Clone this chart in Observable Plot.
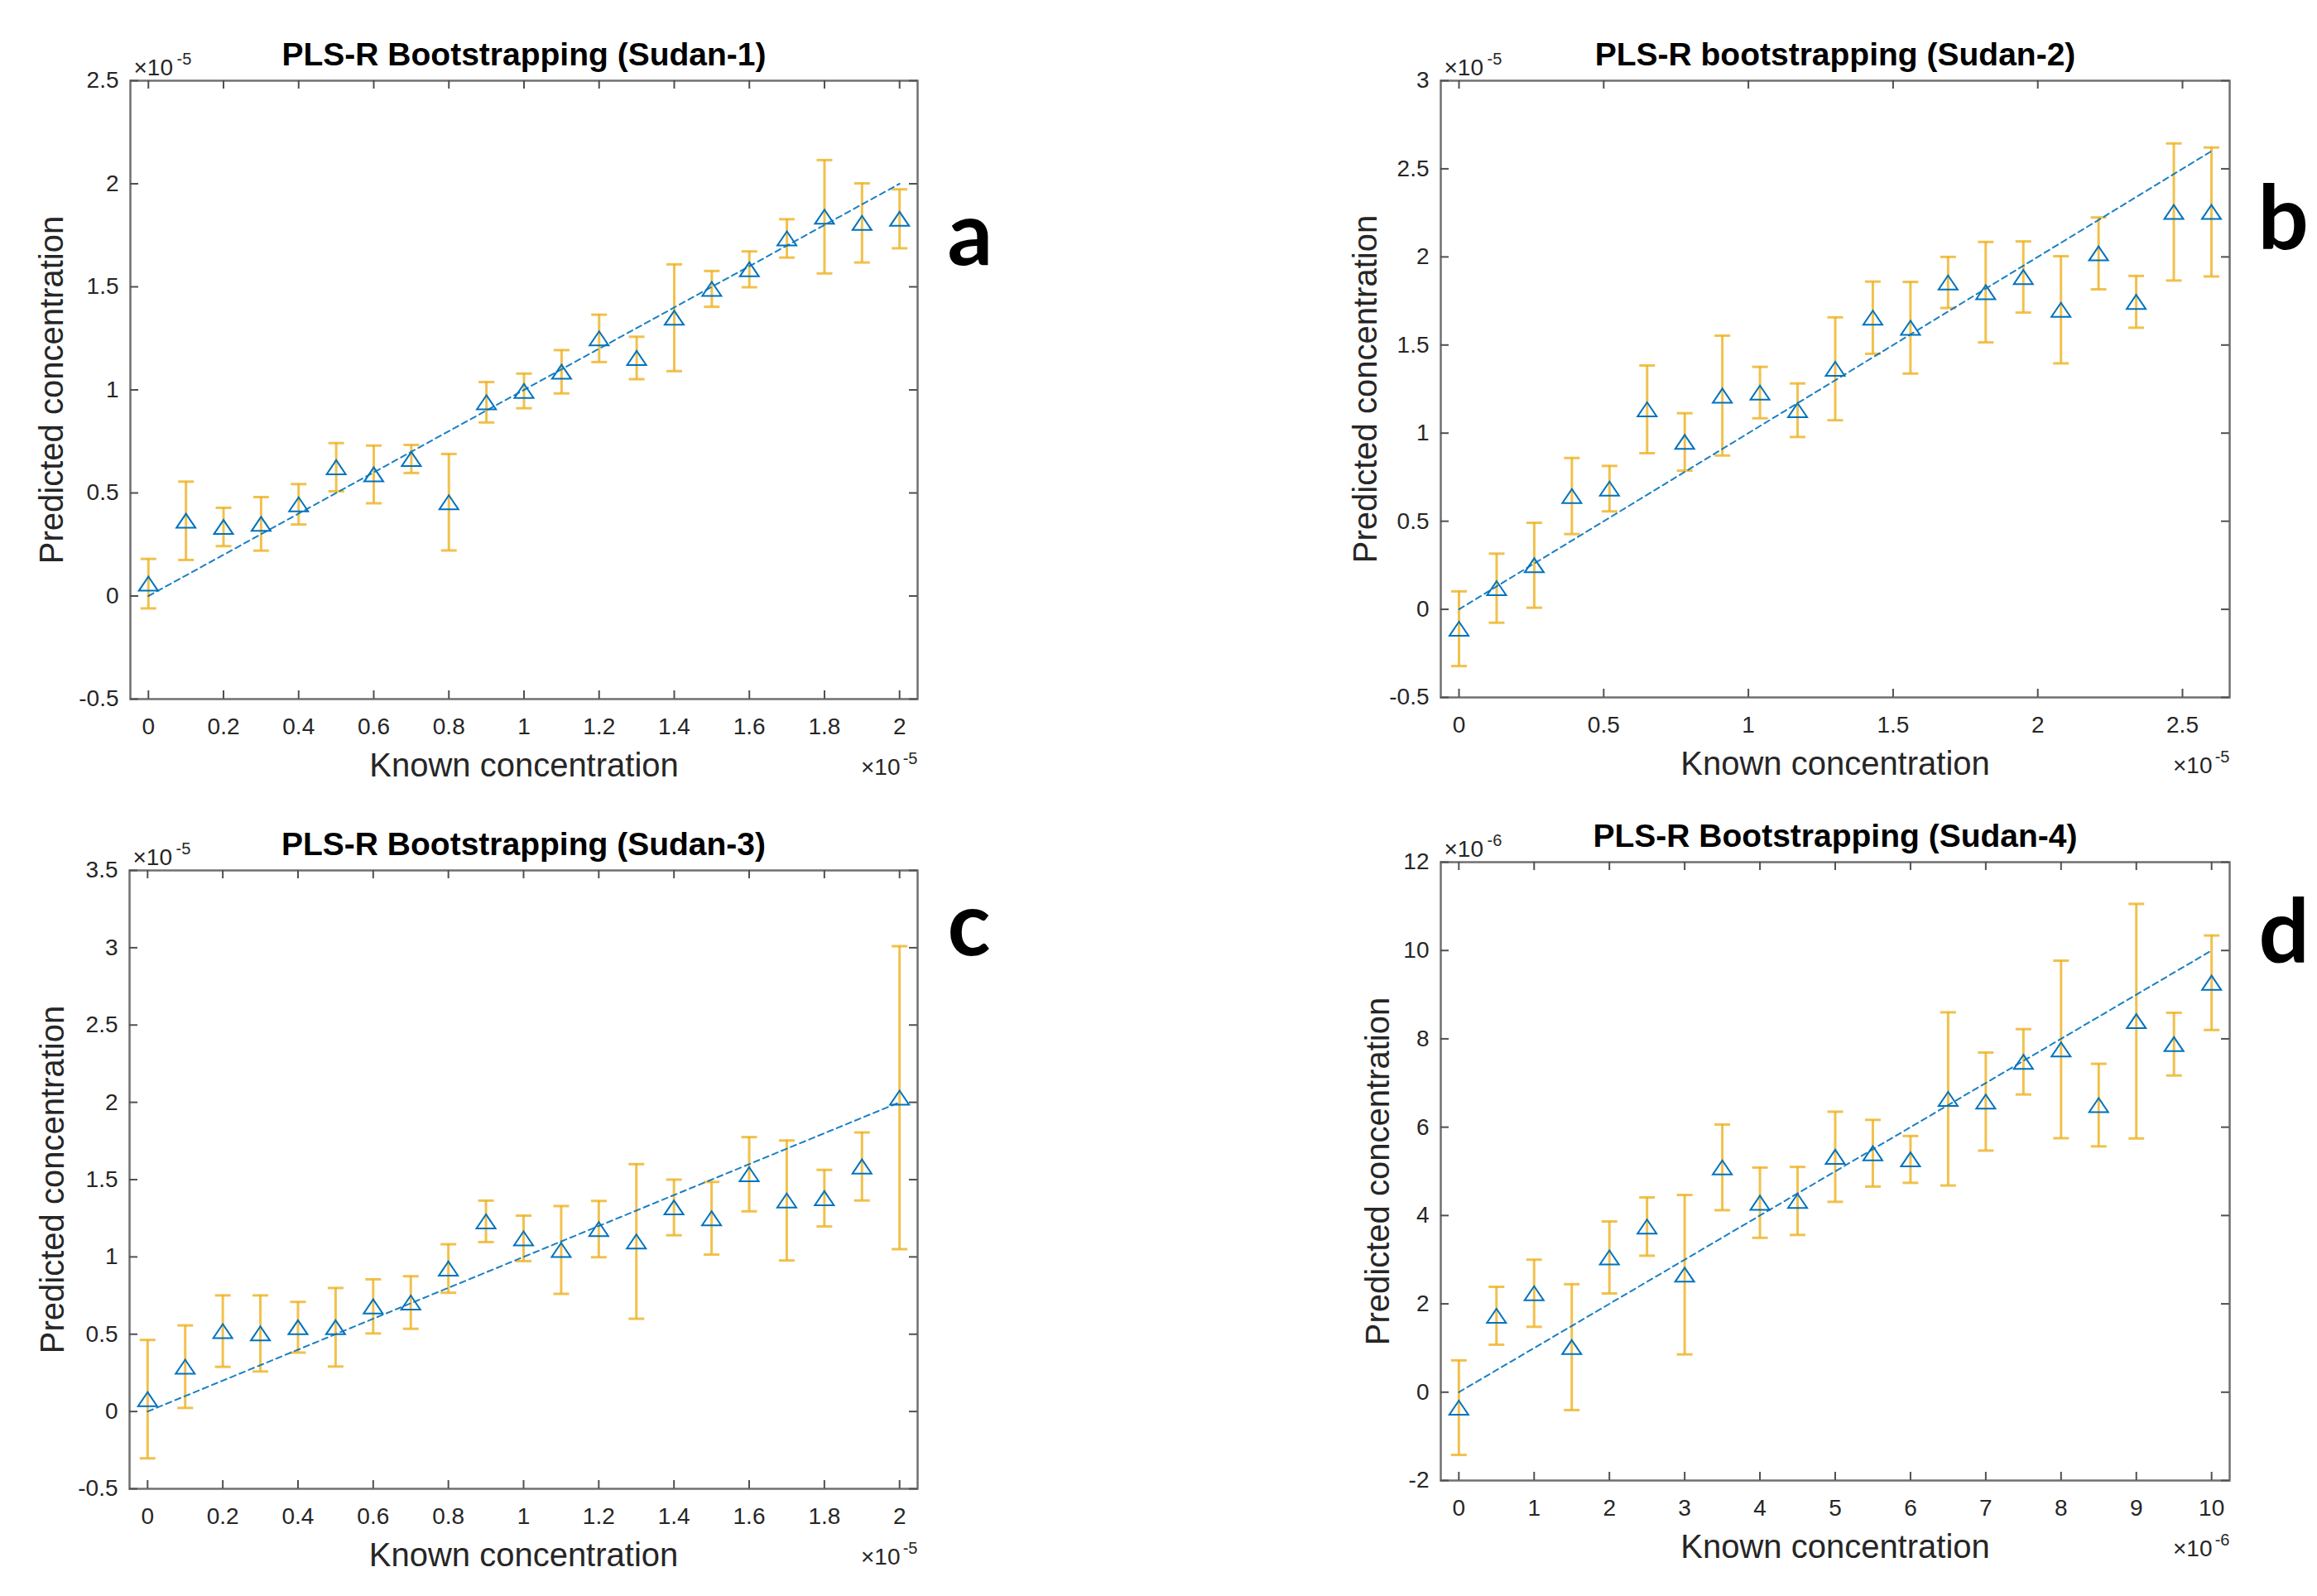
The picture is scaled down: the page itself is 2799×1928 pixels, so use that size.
<!DOCTYPE html>
<html>
<head>
<meta charset="utf-8">
<script src="https://cdn.jsdelivr.net/npm/d3@7"></script>
<script src="https://cdn.jsdelivr.net/npm/@observablehq/plot@0.6"></script>
<style>
html, body { margin: 0; padding: 0; background: #fff; }
#page { position: relative; width: 2799px; height: 1928px; overflow: hidden; background: #fff; }
.panel { position: absolute; }
</style>
</head>
<body>
<div id="page"></div>
<script>
// ---------- DATA (values shown in units of the axis multiplier) ----------
// Panel a: Sudan-1 (x10^-5)
const titleA = "PLS-R Bootstrapping (Sudan-1)";
const xA = [0, 0.1, 0.2, 0.3, 0.4, 0.5, 0.6, 0.7, 0.8, 0.9, 1.0, 1.1, 1.2, 1.3, 1.4, 1.5, 1.6, 1.7, 1.8, 1.9, 2.0];
const yA = [0.06, 0.365, 0.335, 0.35, 0.445, 0.625, 0.59, 0.665, 0.455, 0.94, 0.995, 1.088, 1.25, 1.155, 1.35, 1.49, 1.585, 1.735, 1.84, 1.81, 1.83];
const eA = [0.12, 0.19, 0.093, 0.13, 0.098, 0.117, 0.14, 0.068, 0.234, 0.098, 0.084, 0.105, 0.115, 0.103, 0.259, 0.087, 0.087, 0.093, 0.275, 0.192, 0.143];
const fitXA = [0, 2];
const fitYA = [0, 2];
const xTicksA = [0, 0.2, 0.4, 0.6, 0.8, 1, 1.2, 1.4, 1.6, 1.8, 2];
const xLabelsA = ["0", "0.2", "0.4", "0.6", "0.8", "1", "1.2", "1.4", "1.6", "1.8", "2"];
const yTicksA = [-0.5, 0, 0.5, 1, 1.5, 2, 2.5];
const yLabelsA = ["-0.5", "0", "0.5", "1", "1.5", "2", "2.5"];
const expA = "-5";

// Panel b: Sudan-2 (x10^-5)
const titleB = "PLS-R bootstrapping (Sudan-2)";
const xB = [0, 0.13, 0.26, 0.39, 0.52, 0.65, 0.78, 0.91, 1.04, 1.17, 1.30, 1.43, 1.56, 1.69, 1.82, 1.95, 2.08, 2.21, 2.34, 2.47, 2.60];
const yB = [-0.11, 0.12, 0.25, 0.643, 0.685, 1.135, 0.95, 1.213, 1.23, 1.13, 1.365, 1.655, 1.598, 1.855, 1.8, 1.886, 1.70, 2.02, 1.745, 2.255, 2.255];
const eB = [0.212, 0.196, 0.241, 0.216, 0.129, 0.249, 0.163, 0.34, 0.146, 0.152, 0.292, 0.205, 0.26, 0.145, 0.285, 0.202, 0.304, 0.204, 0.147, 0.389, 0.366];
const fitXB = [0, 2.6];
const fitYB = [0, 2.6];
const xTicksB = [0, 0.5, 1, 1.5, 2, 2.5];
const xLabelsB = ["0", "0.5", "1", "1.5", "2", "2.5"];
const yTicksB = [-0.5, 0, 0.5, 1, 1.5, 2, 2.5, 3];
const yLabelsB = ["-0.5", "0", "0.5", "1", "1.5", "2", "2.5", "3"];
const expB = "-5";

// Panel c: Sudan-3 (x10^-5)
const titleC = "PLS-R Bootstrapping (Sudan-3)";
const xC = [0, 0.1, 0.2, 0.3, 0.4, 0.5, 0.6, 0.7, 0.8, 0.9, 1.0, 1.1, 1.2, 1.3, 1.4, 1.5, 1.6, 1.7, 1.8, 1.9, 2.0];
const yC = [0.08, 0.29, 0.52, 0.505, 0.545, 0.545, 0.68, 0.705, 0.925, 1.23, 1.12, 1.045, 1.18, 1.1, 1.32, 1.25, 1.535, 1.365, 1.38, 1.585, 2.03];
const eC = [0.383, 0.267, 0.231, 0.246, 0.164, 0.254, 0.175, 0.17, 0.157, 0.134, 0.147, 0.284, 0.182, 0.5, 0.18, 0.235, 0.24, 0.388, 0.183, 0.22, 0.98];
const fitXC = [0, 2];
const fitYC = [0, 2];
const xTicksC = [0, 0.2, 0.4, 0.6, 0.8, 1, 1.2, 1.4, 1.6, 1.8, 2];
const xLabelsC = ["0", "0.2", "0.4", "0.6", "0.8", "1", "1.2", "1.4", "1.6", "1.8", "2"];
const yTicksC = [-0.5, 0, 0.5, 1, 1.5, 2, 2.5, 3, 3.5];
const yLabelsC = ["-0.5", "0", "0.5", "1", "1.5", "2", "2.5", "3", "3.5"];
const expC = "-5";

// Panel d: Sudan-4 (x10^-6)
const titleD = "PLS-R Bootstrapping (Sudan-4)";
const xD = [0, 0.5, 1, 1.5, 2, 2.5, 3, 3.5, 4, 4.5, 5, 5.5, 6, 6.5, 7, 7.5, 8, 8.5, 9, 9.5, 10];
const yD = [-0.35, 1.73, 2.24, 1.02, 3.05, 3.75, 2.66, 5.09, 4.29, 4.33, 5.33, 5.41, 5.27, 6.64, 6.58, 7.48, 7.76, 6.5, 8.4, 7.88, 9.27];
const eD = [1.07, 0.655, 0.76, 1.425, 0.815, 0.66, 1.805, 0.97, 0.795, 0.77, 1.02, 0.755, 0.53, 1.96, 1.11, 0.74, 2.01, 0.935, 2.655, 0.71, 1.07];
const fitXD = [0, 10];
const fitYD = [0, 10];
const xTicksD = [0, 1, 2, 3, 4, 5, 6, 7, 8, 9, 10];
const xLabelsD = ["0", "1", "2", "3", "4", "5", "6", "7", "8", "9", "10"];
const yTicksD = [-2, 0, 2, 4, 6, 8, 10, 12];
const yLabelsD = ["-2", "0", "2", "4", "6", "8", "10", "12"];
const expD = "-6";

const xAxisTitle = "Known concentration";
const yAxisTitle = "Predicted concentration";

// ---------- STYLE ----------
const ORANGE = "#EDB120", BLUE = "#0072BD", INK = "#262626";
const FONT = "'Liberation Sans', Arial, Helvetica, sans-serif";

const capSymbol = {
  draw(ctx, size) {
    const r = Math.sqrt(size / Math.PI);
    ctx.moveTo(-r, 0); ctx.lineTo(r, 0);
  }
};
const triSymbol = {
  draw(ctx, size) {
    const r = Math.sqrt(size / Math.PI);
    ctx.moveTo(0, -0.74 * r); ctx.lineTo(r, 0.74 * r); ctx.lineTo(-r, 0.74 * r); ctx.closePath();
  }
};

function makePanel(p) {
  const W = p.width - p.ml - p.mr;
  const H = p.height - p.mt - p.mb;
  const pts = p.x.map((x, i) => ({x, y: p.y[i], e: p.e[i]}));
  const fit = p.fitX.map((x, i) => ({x, y: p.fitY[i]}));
  const tk = 10;
  const chart = Plot.plot({
    width: p.width, height: p.height,
    marginTop: p.mt, marginLeft: p.ml, marginRight: p.mr, marginBottom: p.mb,
    style: {fontFamily: FONT, background: "white", overflow: "visible"},
    x: {domain: p.xDomain, label: null},
    y: {domain: p.yDomain, label: null},
    marks: [
      Plot.ruleX(pts, {x: "x", y1: d => d.y - d.e, y2: d => d.y + d.e, stroke: ORANGE, strokeWidth: 3, strokeOpacity: 0.8}),
      Plot.dot(pts, {x: "x", y: d => d.y + d.e, symbol: capSymbol, r: 9.5, stroke: ORANGE, fill: "none", strokeWidth: 3, strokeOpacity: 0.8}),
      Plot.dot(pts, {x: "x", y: d => d.y - d.e, symbol: capSymbol, r: 9.5, stroke: ORANGE, fill: "none", strokeWidth: 3, strokeOpacity: 0.8}),
      Plot.line(fit, {x: "x", y: "y", stroke: BLUE, strokeWidth: 2, strokeDasharray: "7,5", strokeOpacity: 0.9}),
      Plot.dot(pts, {x: "x", y: "y", symbol: triSymbol, r: 11.5, stroke: BLUE, fill: "none", strokeWidth: 2}),
      Plot.frame({stroke: "#707070", strokeWidth: 2.5}),
      Plot.ruleX(p.xTicks, {x: d => d, insetTop: H - tk, stroke: "#505050", strokeWidth: 2}),
      Plot.ruleX(p.xTicks, {x: d => d, insetBottom: H - tk, stroke: "#505050", strokeWidth: 2}),
      Plot.ruleY(p.yTicks, {y: d => d, insetRight: W - tk, stroke: "#505050", strokeWidth: 2}),
      Plot.ruleY(p.yTicks, {y: d => d, insetLeft: W - tk, stroke: "#505050", strokeWidth: 2}),
      Plot.axisX({ticks: p.xTicks, tickFormat: d => p.xLabels[p.xTicks.indexOf(d)], tickSize: 0, tickPadding: 23, fontSize: 28, color: INK, label: null}),
      Plot.axisY({ticks: p.yTicks, tickFormat: d => p.yLabels[p.yTicks.indexOf(d)], tickSize: 0, tickPadding: 14, fontSize: 28, color: INK, label: null}),
      Plot.text([p.title], {text: d => d, frameAnchor: "top", dy: -19, lineAnchor: "bottom", fontSize: 39, fontWeight: "bold", fill: "black"}),
      Plot.text([xAxisTitle], {text: d => d, frameAnchor: "bottom", dy: 93, lineAnchor: "bottom", fontSize: 40, fill: INK}),
      Plot.text([yAxisTitle], {text: d => d, frameAnchor: "left", dx: p.ylabDx, rotate: -90, lineAnchor: "bottom", textAnchor: "middle", fontSize: 40, fill: INK}),
      Plot.text(["×10"], {text: d => d, frameAnchor: "top-left", dx: 4, dy: -7, lineAnchor: "bottom", textAnchor: "start", fontSize: 28, fill: INK}),
      Plot.text([p.exp], {text: d => d, frameAnchor: "top-left", dx: 56, dy: -20, lineAnchor: "bottom", textAnchor: "start", fontSize: 20, fill: INK}),
      Plot.text(["×10"], {text: d => d, frameAnchor: "bottom-right", dx: -21, dy: 91, lineAnchor: "bottom", textAnchor: "end", fontSize: 28, fill: INK}),
      Plot.text([p.exp], {text: d => d, frameAnchor: "bottom-right", dx: 0, dy: 78, lineAnchor: "bottom", textAnchor: "end", fontSize: 20, fill: INK}),
      Plot.text([p.letter], {text: d => d, frameAnchor: "top-right", dx: p.letterDx, dy: p.letterDy, lineAnchor: "bottom", textAnchor: "start", fontSize: 108, fontWeight: 700, fontFamily: "Lato, 'Open Sans', sans-serif", fill: "black"})
    ]
  });
  chart.classList.add("panel");
  chart.style.left = p.left + "px";
  chart.style.top = p.top + "px";
  document.getElementById("page").appendChild(chart);
}

const panels = [
  {left: 0, top: 0, width: 1400, height: 964, ml: 157, mr: 292, mt: 97, mb: 120,
   x: xA, y: yA, e: eA, fitX: fitXA, fitY: fitYA, xDomain: [-0.048, 2.048], yDomain: [-0.5, 2.5],
   xTicks: xTicksA, xLabels: xLabelsA, yTicks: yTicksA, yLabels: yLabelsA, exp: expA,
   title: titleA, letter: "a", letterDx: 36, letterDy: 222, ylabDx: -82},
  {left: 1400, top: 0, width: 1399, height: 964, ml: 340, mr: 106, mt: 97, mb: 122,
   x: xB, y: yB, e: eB, fitX: fitXB, fitY: fitYB, xDomain: [-0.063, 2.663], yDomain: [-0.5, 3],
   xTicks: xTicksB, xLabels: xLabelsB, yTicks: yTicksB, yLabels: yLabelsB, exp: expB,
   title: titleB, letter: "b", letterDx: 34, letterDy: 203, ylabDx: -78},
  {left: 0, top: 964, width: 1400, height: 964, ml: 156, mr: 292, mt: 87, mb: 130,
   x: xC, y: yC, e: eC, fitX: fitXC, fitY: fitYC, xDomain: [-0.048, 2.048], yDomain: [-0.5, 3.5],
   xTicks: xTicksC, xLabels: xLabelsC, yTicks: yTicksC, yLabels: yLabelsC, exp: expC,
   title: titleC, letter: "c", letterDx: 36, letterDy: 102, ylabDx: -80},
  {left: 1400, top: 964, width: 1399, height: 964, ml: 340, mr: 106, mt: 77, mb: 140,
   x: xD, y: yD, e: eD, fitX: fitXD, fitY: fitYD, xDomain: [-0.24, 10.24], yDomain: [-2, 12],
   xTicks: xTicksD, xLabels: xLabelsD, yTicks: yTicksD, yLabels: yLabelsD, exp: expD,
   title: titleD, letter: "d", letterDx: 35, letterDy: 121, ylabDx: -63}
];
panels.forEach(makePanel);
</script>
</body>
</html>
